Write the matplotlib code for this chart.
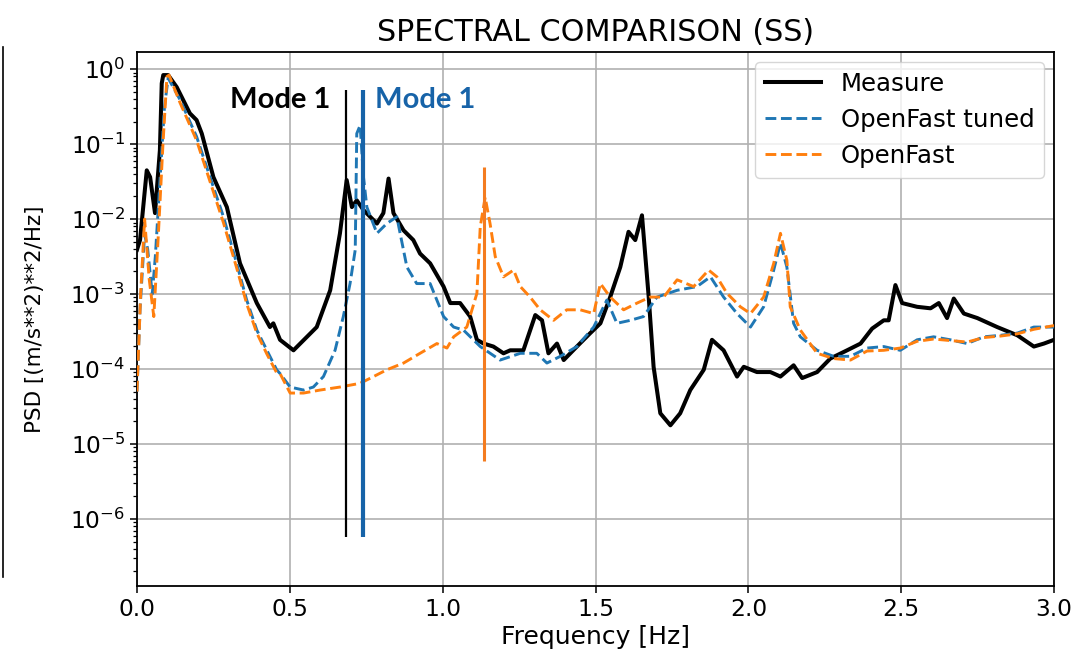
import numpy as np
import matplotlib
matplotlib.use("Agg")
import matplotlib.pyplot as plt
from matplotlib.ticker import LogLocator, NullFormatter, MultipleLocator
from matplotlib.lines import Line2D

# ---------------- data ----------------
meas_f = [0.000, 0.010, 0.032, 0.043, 0.059, 0.075, 0.081, 0.086, 0.102, 0.130,
          0.173, 0.195, 0.212, 0.250, 0.294, 0.337, 0.392, 0.435, 0.446, 0.468,
          0.512, 0.534, 0.588, 0.632, 0.664, 0.686, 0.703, 0.719, 0.741, 0.785,
          0.806, 0.823, 0.839, 0.872, 0.904, 0.926, 0.959, 1.003, 1.025, 1.057,
          1.090, 1.112, 1.134, 1.166, 1.199, 1.221, 1.264, 1.303, 1.325, 1.346,
          1.374, 1.396, 1.439, 1.483, 1.516, 1.548, 1.581, 1.608, 1.630, 1.652,
          1.674, 1.690, 1.712, 1.745, 1.777, 1.810, 1.854, 1.881, 1.919, 1.963,
          1.985, 2.028, 2.072, 2.105, 2.148, 2.176, 2.225, 2.268, 2.323, 2.367,
          2.405, 2.443, 2.459, 2.481, 2.503, 2.552, 2.596, 2.623, 2.650, 2.672,
          2.705, 2.749, 2.814, 2.880, 2.934, 2.967, 3.000]
meas_log = [-2.41, -2.28, -1.35, -1.44, -1.92, -1.08, -0.19, -0.08, -0.08, -0.24,
            -0.59, -0.68, -0.86, -1.44, -1.84, -2.59, -3.12, -3.44, -3.39, -3.61,
            -3.75, -3.66, -3.44, -2.95, -2.19, -1.48, -1.84, -1.75, -1.88, -2.06,
            -1.92, -1.46, -1.92, -2.15, -2.28, -2.46, -2.59, -2.90, -3.12, -3.12,
            -3.30, -3.61, -3.66, -3.70, -3.79, -3.75, -3.75, -3.28, -3.35, -3.79,
            -3.66, -3.88, -3.70, -3.52, -3.39, -3.04, -2.64, -2.17, -2.28, -1.95,
            -3.04, -3.97, -4.59, -4.75, -4.59, -4.28, -4.01, -3.61, -3.75, -4.10,
            -3.97, -4.04, -4.04, -4.10, -3.95, -4.12, -4.04, -3.86, -3.75, -3.66,
            -3.46, -3.35, -3.35, -2.88, -3.12, -3.17, -3.19, -3.12, -3.32, -3.06,
            -3.26, -3.32, -3.44, -3.55, -3.70, -3.66, -3.61]

tuned_f = [0.000, 0.010, 0.025, 0.035, 0.050, 0.060, 0.075, 0.090, 0.102, 0.141,
           0.195, 0.239, 0.283, 0.326, 0.359, 0.392, 0.425, 0.457, 0.468, 0.501,
           0.545, 0.577, 0.610, 0.648, 0.675, 0.697, 0.714, 0.719, 0.730, 0.741,
           0.752, 0.785, 0.817, 0.850, 0.883, 0.915, 0.959, 1.003, 1.036, 1.068,
           1.123, 1.188, 1.254, 1.308, 1.341, 1.385, 1.439, 1.494, 1.537, 1.570,
           1.614, 1.657, 1.701, 1.767, 1.832, 1.876, 1.919, 1.963, 2.007, 2.050,
           2.083, 2.105, 2.126, 2.148, 2.170, 2.225, 2.279, 2.334, 2.388, 2.443,
           2.497, 2.552, 2.606, 2.661, 2.716, 2.770, 2.825, 2.880, 2.934, 3.000]
tuned_log = [-4.30, -3.20, -2.20, -2.40, -3.00, -2.50, -1.50, -0.50, -0.12, -0.41,
             -0.90, -1.44, -1.97, -2.59, -3.08, -3.48, -3.75, -4.01, -4.06, -4.24,
             -4.28, -4.24, -4.10, -3.75, -3.30, -2.86, -2.41, -0.86, -0.75, -1.44,
             -1.84, -2.19, -2.06, -1.97, -2.64, -2.86, -2.86, -3.30, -3.44, -3.48,
             -3.70, -3.88, -3.79, -3.79, -3.92, -3.83, -3.70, -3.44, -3.08, -3.39,
             -3.35, -3.30, -3.04, -2.95, -2.90, -2.77, -3.04, -3.26, -3.44, -3.17,
             -2.68, -2.32, -2.64, -3.39, -3.57, -3.75, -3.83, -3.83, -3.72, -3.70,
             -3.75, -3.61, -3.57, -3.61, -3.66, -3.57, -3.55, -3.52, -3.44, -3.44]

ofast_f = [0.000, 0.012, 0.025, 0.040, 0.055, 0.070, 0.085, 0.098, 0.105, 0.141,
           0.195, 0.239, 0.283, 0.326, 0.359, 0.392, 0.425, 0.457, 0.468, 0.501,
           0.545, 0.599, 0.664, 0.730, 0.774, 0.817, 0.872, 0.926, 0.981, 1.014,
           1.036, 1.079, 1.112, 1.123, 1.139, 1.155, 1.172, 1.199, 1.232, 1.254,
           1.286, 1.319, 1.363, 1.406, 1.450, 1.494, 1.516, 1.548, 1.592, 1.636,
           1.679, 1.723, 1.767, 1.821, 1.870, 1.897, 1.930, 1.974, 2.007, 2.050,
           2.083, 2.105, 2.126, 2.137, 2.170, 2.225, 2.279, 2.334, 2.388, 2.443,
           2.497, 2.552, 2.606, 2.661, 2.716, 2.770, 2.825, 2.880, 2.934, 3.000]
ofast_log = [-4.30, -3.00, -2.00, -2.80, -3.30, -2.20, -1.00, -0.10, -0.08, -0.45,
             -0.95, -1.50, -2.05, -2.65, -3.13, -3.52, -3.80, -4.05, -4.06, -4.32,
             -4.32, -4.28, -4.24, -4.19, -4.10, -4.01, -3.92, -3.79, -3.66, -3.72,
             -3.57, -3.44, -2.99, -2.10, -1.71, -2.06, -2.50, -2.77, -2.68, -2.90,
             -3.04, -3.21, -3.35, -3.21, -3.21, -3.26, -2.86, -3.04, -3.21, -3.12,
             -3.04, -3.04, -2.81, -2.90, -2.68, -2.77, -2.99, -3.17, -3.26, -3.04,
             -2.59, -2.19, -2.55, -3.17, -3.48, -3.79, -3.86, -3.88, -3.76, -3.75,
             -3.72, -3.63, -3.60, -3.62, -3.64, -3.58, -3.56, -3.53, -3.47, -3.42]

series_names = ["Measure", "OpenFast tuned", "OpenFast"]

mode_meas_f = 0.684
mode_tuned_f = 0.739
mode_ofast_f = 1.135
mode_label = "Mode 1"

# ---------------- figure ----------------
fig = plt.figure(figsize=(10.76, 6.71), dpi=100)
ax = fig.add_axes([0.1273, 0.1267, 0.8523, 0.7958])

BLUE = "#1f77b4"
ORANGE = "#ff7f0e"

ax.semilogy(meas_f, 10 ** np.array(meas_log), color="black", lw=2.9,
            label=series_names[0], zorder=3)
ax.semilogy(tuned_f, 10 ** np.array(tuned_log), color=BLUE, lw=2.1, ls="--",
            label=series_names[1], zorder=4)
ax.semilogy(ofast_f, 10 ** np.array(ofast_log), color=ORANGE, lw=2.1, ls="--",
            label=series_names[2], zorder=4)

# mode markers
ax.vlines(mode_meas_f, 5.75e-7, 0.525, color="black", lw=1.6, zorder=5)
ax.vlines(mode_tuned_f, 5.75e-7, 0.525, color="#1763a8", lw=3.0, zorder=5)
ax.vlines(mode_ofast_f, 5.9e-6, 0.050, color="#f47c20", lw=2.2, zorder=5)

ax.text(0.304, 0.30, mode_label, color="black", fontsize=21,
        fontweight="bold", family="Lato", va="baseline", ha="left", zorder=6)
ax.text(0.779, 0.30, mode_label, color="#1763a8", fontsize=21,
        fontweight="bold", family="Lato", va="baseline", ha="left", zorder=6)

ax.set_xlim(0, 3.0)
ax.set_ylim(1.28e-7, 1.69)
ax.xaxis.set_major_locator(MultipleLocator(0.5))
ax.yaxis.set_major_locator(LogLocator(base=10, numticks=20))
ax.yaxis.set_minor_locator(LogLocator(base=10, subs=np.arange(2, 10), numticks=20))
ax.yaxis.set_minor_formatter(NullFormatter())

ax.grid(True, which="major", color="#b0b0b0", lw=1.2)
ax.tick_params(axis="both", which="major", labelsize=16.8, length=5, width=1.1)
ax.tick_params(axis="y", which="minor", length=3, width=0.9)
for s in ax.spines.values():
    s.set_linewidth(1.3)

ax.set_title("SPECTRAL COMPARISON (SS)", fontsize=21.7, pad=8)
ax.set_xlabel("Frequency [Hz]", fontsize=18, labelpad=3)
ax.set_ylabel("PSD [(m/s**2)**2/Hz]", fontsize=15.4, labelpad=18)

leg = ax.legend(loc="upper right", fontsize=17.6, framealpha=0.8,
                handlelength=2.3, handletextpad=0.8, borderaxespad=0.4)

# edge of neighbouring panel at the left border of the screenshot
fig.add_artist(Line2D([0.003, 0.003], [1 - 47 / 671, 1 - 577 / 671],
                      transform=fig.transFigure, color="black", lw=1.2))

fig.savefig("out.png", dpi=100)
